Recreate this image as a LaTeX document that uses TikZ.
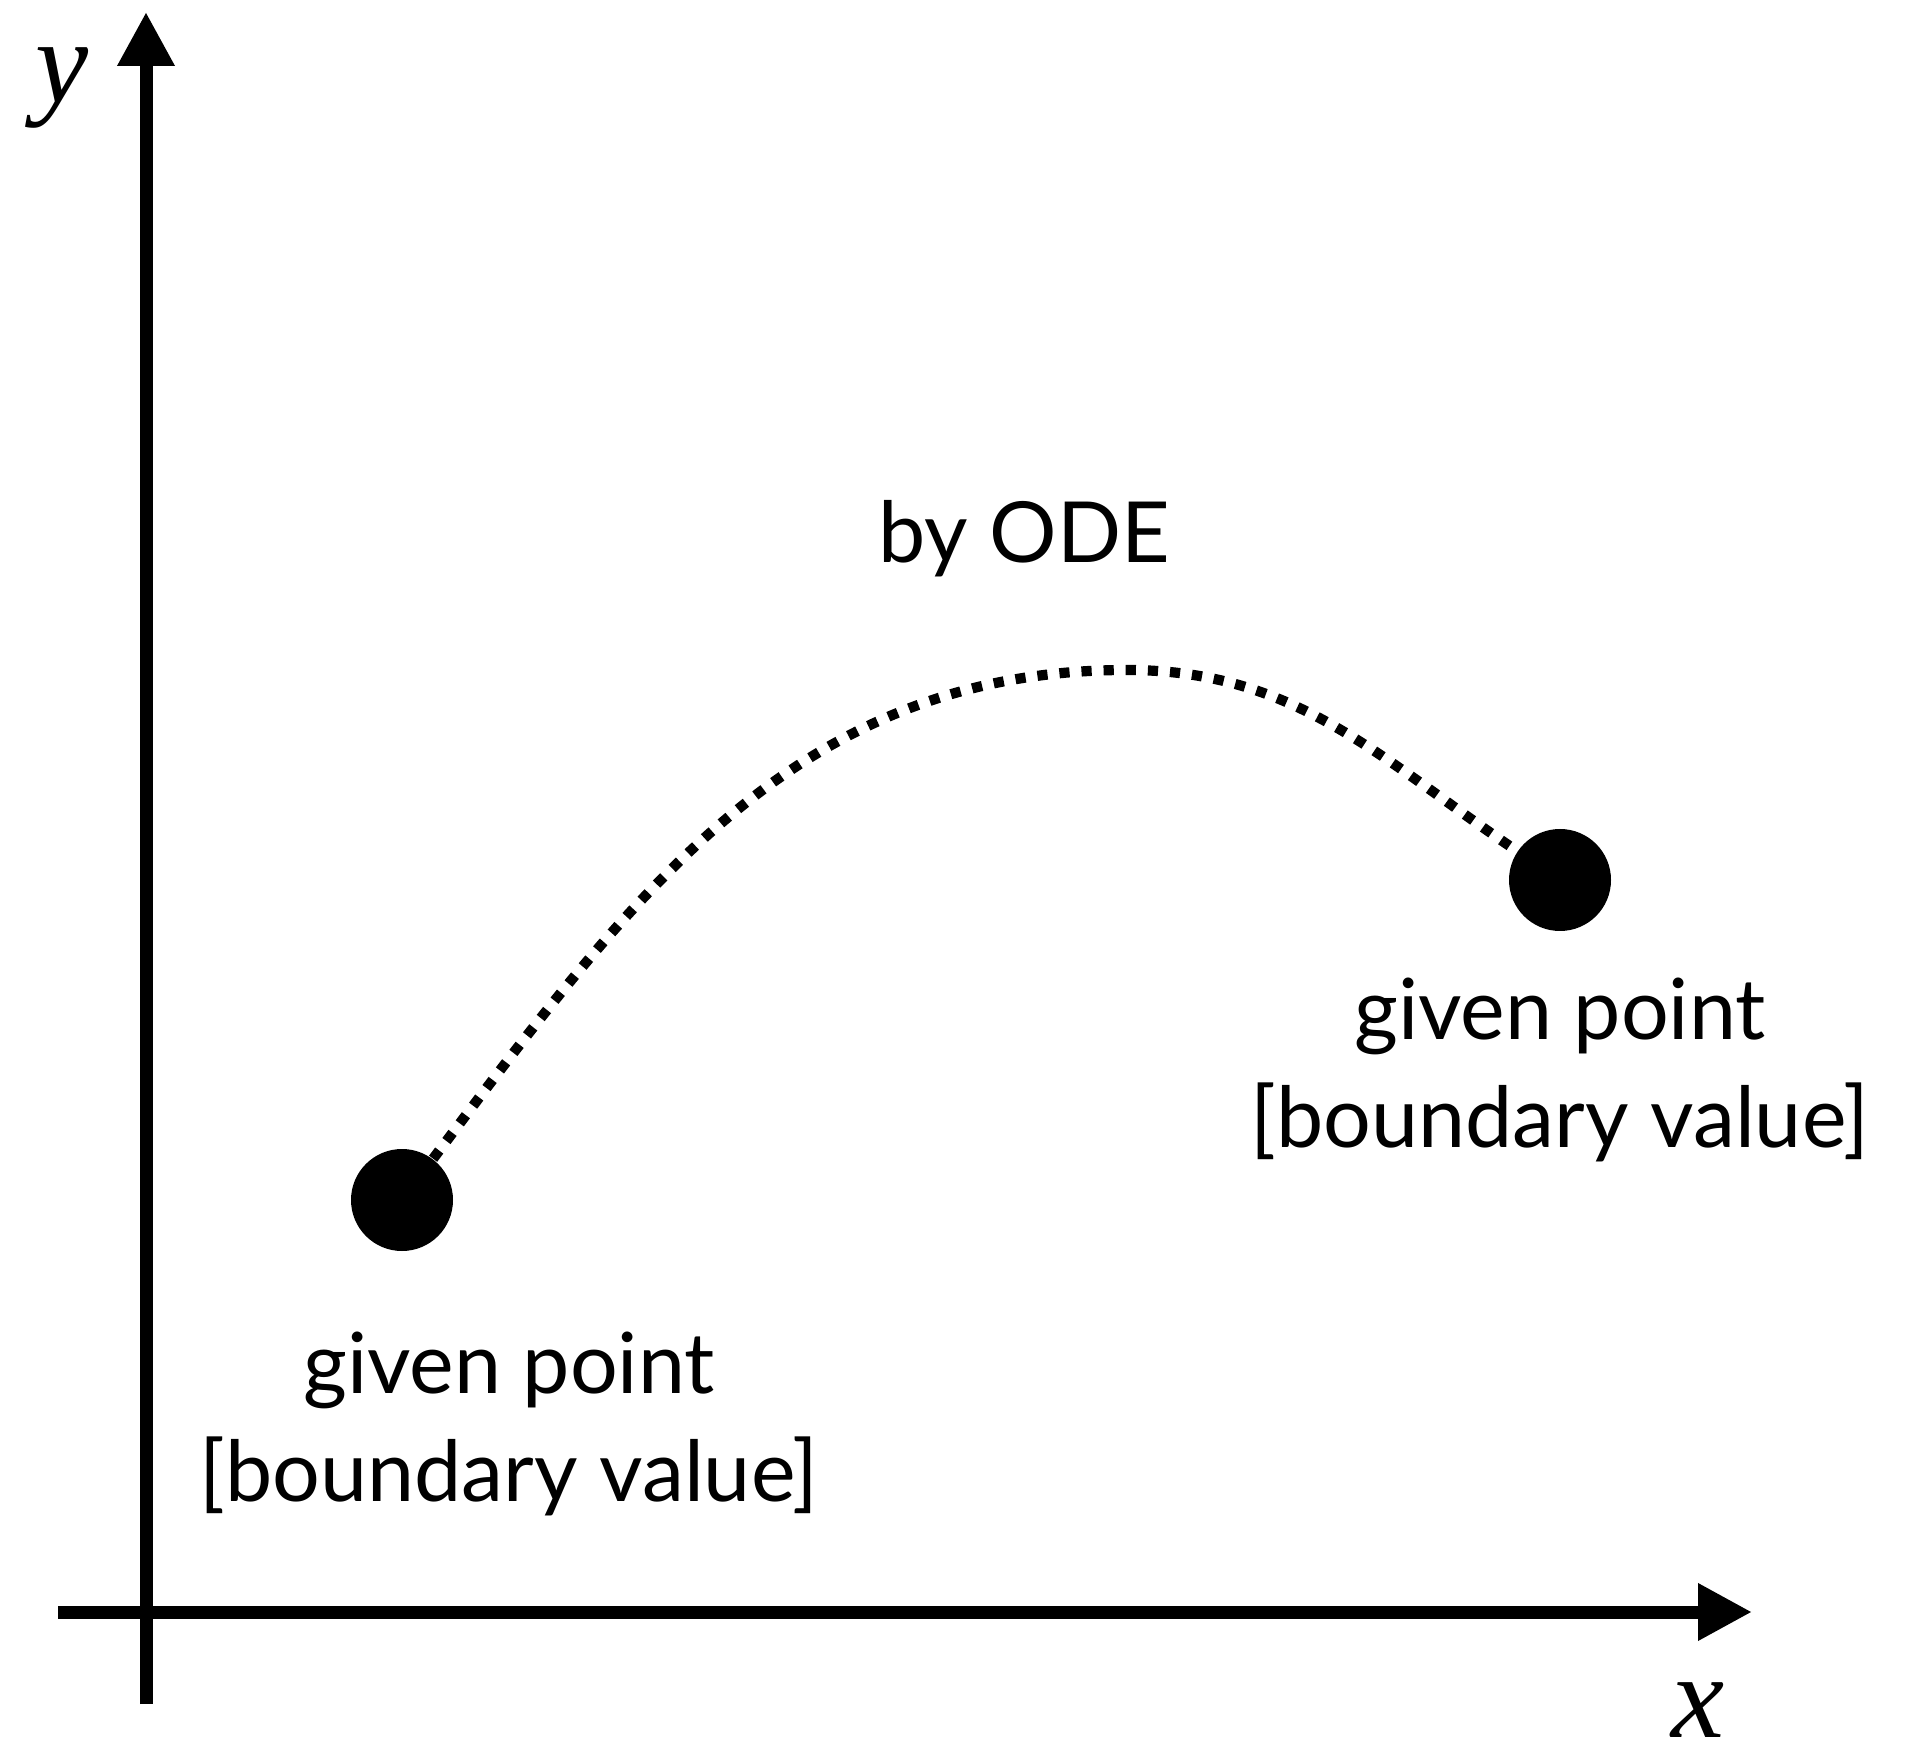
\documentclass[tikz,border=0pt]{standalone}
\usepackage{fontspec}
\setmainfont{Lato}
\newfontfamily\axisfont{Liberation Serif}
\usepackage{tikz}
\usetikzlibrary{arrows.meta,positioning}

\begin{document}
\begin{tikzpicture}[font=\fontsize{24}{30.5}\selectfont,
 axis/.style={line width=3.7pt,-{Triangle[length=5.4mm,width=5.4mm]}},
 pt/.style={circle,fill=black,inner sep=0pt,minimum size=10.2mm},
 lbl/.style={align=center,inner sep=0pt},
 axlbl/.style={font=\fontsize{34}{34}\selectfont\axisfont\itshape,inner sep=0pt},
 ode/.style={line width=2.9pt,dash pattern=on 2.9pt off 3.4pt}]
\useasboundingbox (0,0) rectangle (19.11,17.60);
% axes
\coordinate (o1) at (0.58,1.48);
\coordinate (xe) at (17.52,1.48);
\coordinate (o2) at (1.46,0.56);
\coordinate (ye) at (1.46,17.48);
\draw[axis] (o1)--(xe);
\draw[axis] (o2)--(ye);
\node[axlbl] (xl) at (16.98,0.50) {x};
\node[axlbl] (yl) at (0.62,16.72) {y};
% boundary points
\node[pt] (p1) at (4.02,5.60) {};
\node[pt] (p2) at (15.60,8.80) {};
\coordinate (top) at (11.27,10.90);
\draw[ode] (p1) to[out=53,in=180] (top) to[out=0,in=146] (p2);
\node[lbl] (l1) at (5.09,3.36) {given point\\\relax[boundary value]};
\node[lbl,below=4.6mm of p2] (l2) {given point\\\relax[boundary value]};
\node[lbl] (by) at (10.24,12.21) {by ODE};
\end{tikzpicture}
\end{document}
